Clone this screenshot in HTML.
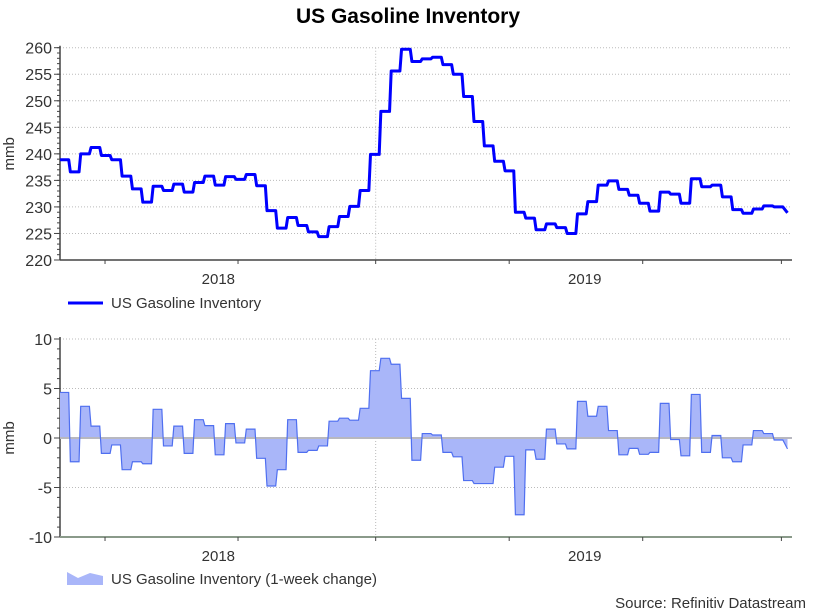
<!DOCTYPE html>
<html><head><meta charset="utf-8"><style>
body{margin:0;background:#fff;}
svg text{font-family:"Liberation Sans",Arial,sans-serif;fill:#333;}
</style></head><body>
<svg id="c" width="817" height="611" xmlns="http://www.w3.org/2000/svg">
<text x="408" y="23" text-anchor="middle" font-size="21" font-weight="bold" style="fill:#000">US Gasoline Inventory</text>
<g id="top"></g>
<g id="bot"></g>
<g>
<line x1="68" y1="303" x2="103" y2="303" stroke="#0000ff" stroke-width="3"/>
<text x="111" y="308" font-size="15">US Gasoline Inventory</text>
</g>
<g>
<path d="M67,572 L78,578 L90,573 L103,576 L103,585 L67,585Z" fill="#a9b6f9"/>
<text x="111" y="584" font-size="15">US Gasoline Inventory (1-week change)</text>
</g>
<text x="806" y="608" text-anchor="end" font-size="15">Source: Refinitiv Datastream</text>
</svg>
<script>
const inventory=[238.9,236.6,240.0,241.2,239.7,238.9,235.8,233.4,230.9,233.9,233.1,234.3,232.8,234.6,235.8,234.1,235.7,235.2,236.1,234.0,229.3,226.0,228.0,226.5,225.3,224.4,226.3,228.2,230.1,233.1,239.9,248.0,255.6,259.7,
257.4,257.9,258.2,256.8,255.0,250.8,246.1,241.5,238.6,236.8,229.0,227.9,225.7,226.8,226.1,225.0,228.7,231.0,234.1,234.9,233.3,232.2,230.7,229.2,232.8,232.4,230.7,235.3,233.8,234.1,231.9,229.5,228.8,229.6,230.2,230.0,228.9];
const weeklyChange=[4.6,-2.4,3.2,1.2,-1.55,-0.7,-3.2,-2.4,-2.6,2.9,-0.8,1.2,-1.55,1.85,1.25,-1.7,1.45,-0.5,0.9,-2.05,-4.85,-3.2,1.85,-1.45,-1.25,-0.8,1.7,2.0,1.8,3.0,6.8,8.05,7.45,4.0,
-2.25,0.45,0.3,-1.45,-1.9,-4.3,-4.6,-4.6,-2.95,-1.85,-7.75,-1.2,-2.15,0.9,-0.6,-1.1,3.7,2.2,3.2,0.75,-1.7,-1.05,-1.65,-1.45,3.5,-0.15,-1.8,4.4,-1.45,0.25,-2.0,-2.4,-0.7,0.75,0.45,-0.2,-1.1];
const topTicks=[220,225,230,235,240,245,250,255,260];
const botTicks=[-10,-5,0,5,10];
const dateTicks=[4.35,17.2,30.5,43.4,56.3,69.7];
const yearLabels=["2018","2019"];
const yearPos=[15.3,50.7];
const gridWeek=30.5;

const NS="http://www.w3.org/2000/svg";
const X0=60,X1=792,STEP=10.35;
const xs=i=>X0+i*STEP;
function mk(p,tag,a){const e=document.createElementNS(NS,tag);for(const k in a)e.setAttribute(k,a[k]);p.appendChild(e);return e;}
function stepPts(vals,y){const pts=[];vals.forEach((v,i)=>{const x=xs(i);if(i===vals.length-1){pts.push([x+3,y(v)]);}else{pts.push([x,y(v)],[x+8.7,y(v)]);}});return pts;}
function panel(g,yTop,yBot,min,max,ticks,minor,titleY,isBot){
  const y=v=>yBot-(v-min)/(max-min)*(yBot-yTop);
  ticks.forEach(t=>{
    if(t!==min){const gl=mk(g,'line',{x1:X0,x2:X1,y1:y(t),y2:y(t),stroke:'#bbb','stroke-dasharray':'1,2'});
    
    }
    const tl=mk(g,'text',{x:52,y:y(t)+6,'text-anchor':'end','font-size':16});tl.textContent=t;
    
    
  });
  for(let v=min;v<=max;v+=minor){mk(g,'line',{x1:X0-3,x2:X0,y1:y(v),y2:y(v),stroke:'#444'});}
  ticks.forEach(t=>mk(g,'line',{x1:X0-6,x2:X0,y1:y(t),y2:y(t),stroke:'#444'}));
  mk(g,'line',{x1:xs(gridWeek),x2:xs(gridWeek),y1:yTop,y2:yBot,stroke:'#bbb','stroke-dasharray':'1,2'});
  mk(g,'line',{x1:X0,x2:X0,y1:yTop-2,y2:yBot,stroke:'#444','stroke-width':1.5});
  mk(g,'line',{x1:X0,x2:X1,y1:yBot,y2:yBot,stroke:isBot?'#8a9a8a':'#444','stroke-width':isBot?2:1.5});
  dateTicks.forEach(d=>mk(g,'line',{x1:xs(d),x2:xs(d),y1:yBot,y2:yBot+4,stroke:'#444'}));
  yearLabels.forEach((l,i)=>{const t=mk(g,'text',{x:xs(yearPos[i]),y:yBot+24,'text-anchor':'middle','font-size':15});t.textContent=l;
    
    });
  const at=mk(g,'text',{x:0,y:0,'font-size':15,'text-anchor':'middle',transform:`translate(14,${(yTop+yBot)/2}) rotate(-90)`});at.textContent='mmb';
  
  
  return y;
}
const gt=document.getElementById('top'),gb=document.getElementById('bot');
const yt=panel(gt,47.7,260,220,260,topTicks,1,0,false);
const p1=stepPts(inventory,yt);
const line=mk(gt,'path',{d:'M'+p1.map(p=>p.join(',')).join(' L'),fill:'none',stroke:'#0000ff','stroke-width':3,'stroke-linejoin':'round'});


const yb=panel(gb,339,537,-10,10,botTicks,1,0,true);
const p2=stepPts(weeklyChange,yb);
const z=yb(0);
const area=mk(gb,'path',{d:`M${p2[0][0]},${z} L`+p2.map(p=>p.join(',')).join(' L')+` L${p2[p2.length-1][0]},${z}Z`,fill:'#a9b6f9',stroke:'none'});


mk(gb,'line',{x1:X0,x2:X1,y1:z,y2:z,stroke:'#b8b8c0','stroke-width':2});
const ol=mk(gb,'path',{d:'M'+p2.map(p=>p.join(',')).join(' L'),fill:'none',stroke:'#4f6ff0','stroke-width':1.2});


</script>
</body></html>
